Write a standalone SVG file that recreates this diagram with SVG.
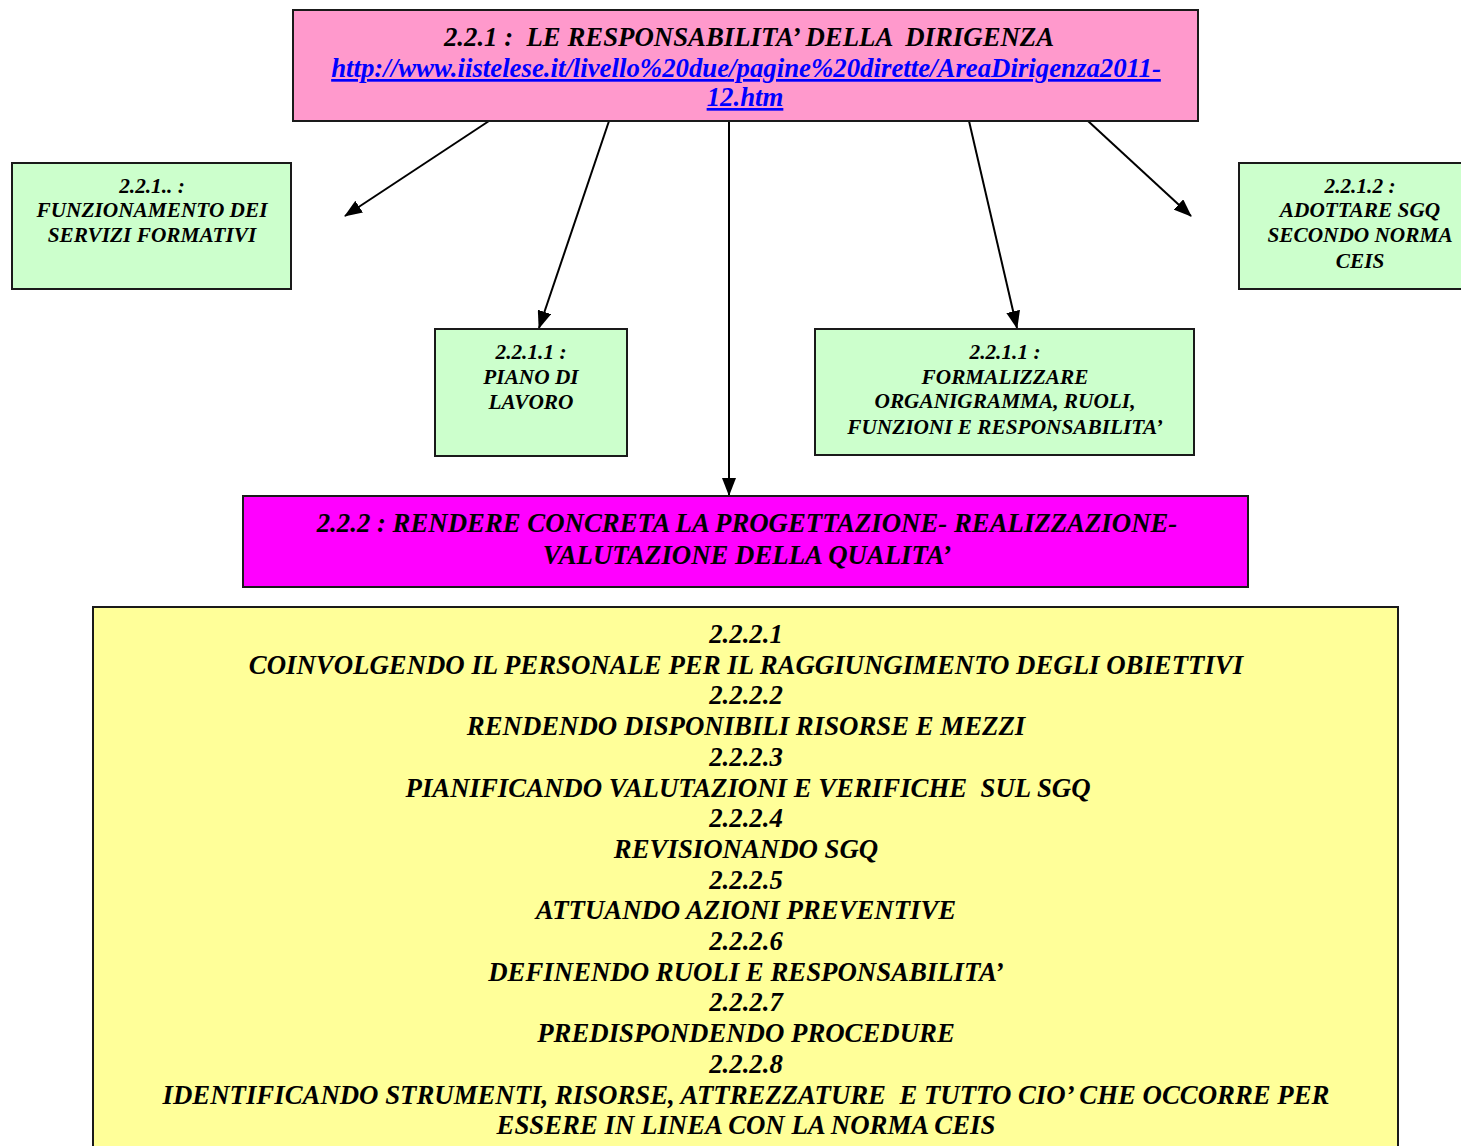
<svg xmlns="http://www.w3.org/2000/svg" width="1461" height="1146" viewBox="0 0 1461 1146">
<defs>
<marker id="ah" markerUnits="userSpaceOnUse" markerWidth="18" markerHeight="14" viewBox="0 0 18 14" refX="17" refY="7" orient="auto">
<path d="M0,0 L18,7 L0,14 Z" fill="#000"/>
</marker>
<style>
.box{stroke:#1a1a1a;stroke-width:2}
.t{font-family:"Liberation Serif","Times New Roman",serif;font-weight:bold;font-style:italic;text-anchor:middle;fill:#000}
.big{font-size:26.8px}
.sm{font-size:21.3px}
.link{fill:#0000FF;text-decoration:underline}
.con{stroke:#000;stroke-width:2;fill:none;marker-end:url(#ah)}
</style>
</defs>
<rect width="1461" height="1146" fill="#fff"/>
<g id="connectors">
<line class="con" x1="489" y1="121" x2="345" y2="216"/>
<line class="con" x1="609" y1="121" x2="539" y2="328"/>
<line class="con" x1="729" y1="121" x2="729" y2="495"/>
<line class="con" x1="969" y1="121" x2="1017" y2="328"/>
<line class="con" x1="1088" y1="121" x2="1191" y2="216"/>
</g>
<g id="n221">
<rect class="box" x="293" y="10" width="905" height="111" fill="#FF99CC"/>
<text class="t big" x="749" y="46" xml:space="preserve">2.2.1 :  LE RESPONSABILITA’ DELLA  DIRIGENZA</text>
<text class="t big link" x="746" y="77">http://www.iistelese.it/livello%20due/pagine%20dirette/AreaDirigenza2011-</text>
<text class="t big link" x="745" y="106">12.htm</text>
</g>
<g id="n221a">
<rect class="box" x="12" y="163" width="279" height="126" fill="#CCFFCC"/>
<text class="t sm" x="152" y="193">2.2.1.. :</text>
<text class="t sm" x="152" y="217">FUNZIONAMENTO DEI</text>
<text class="t sm" x="152" y="242">SERVIZI FORMATIVI</text>
</g>
<g id="n2211a">
<rect class="box" x="435" y="329" width="192" height="127" fill="#CCFFCC"/>
<text class="t sm" x="531" y="359">2.2.1.1 :</text>
<text class="t sm" x="531" y="384">PIANO DI</text>
<text class="t sm" x="531" y="409">LAVORO</text>
</g>
<g id="n2211b">
<rect class="box" x="815" y="329" width="379" height="126" fill="#CCFFCC"/>
<text class="t sm" x="1005" y="359">2.2.1.1 :</text>
<text class="t sm" x="1005" y="384">FORMALIZZARE</text>
<text class="t sm" x="1005" y="408">ORGANIGRAMMA, RUOLI,</text>
<text class="t sm" x="1005" y="434">FUNZIONI E RESPONSABILITA’</text>
</g>
<g id="n2212">
<rect class="box" x="1239" y="163" width="240" height="126" fill="#CCFFCC"/>
<text class="t sm" x="1360" y="193">2.2.1.2 :</text>
<text class="t sm" x="1360" y="217">ADOTTARE SGQ</text>
<text class="t sm" x="1360" y="242">SECONDO NORMA</text>
<text class="t sm" x="1360" y="268">CEIS</text>
</g>
<g id="n222">
<rect class="box" x="243" y="496" width="1005" height="91" fill="#FF00FF"/>
<text class="t big" x="747" y="532">2.2.2 : RENDERE CONCRETA LA PROGETTAZIONE- REALIZZAZIONE-</text>
<text class="t big" x="747" y="564">VALUTAZIONE DELLA QUALITA’</text>
</g>
<g id="n2222">
<rect class="box" x="93" y="607" width="1305" height="560" fill="#FFFF99"/>
<text class="t big" x="746" y="643">2.2.2.1</text>
<text class="t big" x="746" y="673.7">COINVOLGENDO IL PERSONALE PER IL RAGGIUNGIMENTO DEGLI OBIETTIVI</text>
<text class="t big" x="746" y="704.4">2.2.2.2</text>
<text class="t big" x="746" y="735.1">RENDENDO DISPONIBILI RISORSE E MEZZI</text>
<text class="t big" x="746" y="765.8">2.2.2.3</text>
<text class="t big" x="748" y="796.5" xml:space="preserve">PIANIFICANDO VALUTAZIONI E VERIFICHE  SUL SGQ</text>
<text class="t big" x="746" y="827.2">2.2.2.4</text>
<text class="t big" x="746" y="857.9">REVISIONANDO SGQ</text>
<text class="t big" x="746" y="888.6">2.2.2.5</text>
<text class="t big" x="746" y="919.3">ATTUANDO AZIONI PREVENTIVE</text>
<text class="t big" x="746" y="950">2.2.2.6</text>
<text class="t big" x="746" y="980.7">DEFINENDO RUOLI E RESPONSABILITA’</text>
<text class="t big" x="746" y="1011.4">2.2.2.7</text>
<text class="t big" x="746" y="1042.1">PREDISPONDENDO PROCEDURE</text>
<text class="t big" x="746" y="1072.8">2.2.2.8</text>
<text class="t big" x="746" y="1103.5" xml:space="preserve">IDENTIFICANDO STRUMENTI, RISORSE, ATTREZZATURE  E TUTTO CIO’ CHE OCCORRE PER</text>
<text class="t big" x="746" y="1134.2">ESSERE IN LINEA CON LA NORMA CEIS</text>
</g>
</svg>
